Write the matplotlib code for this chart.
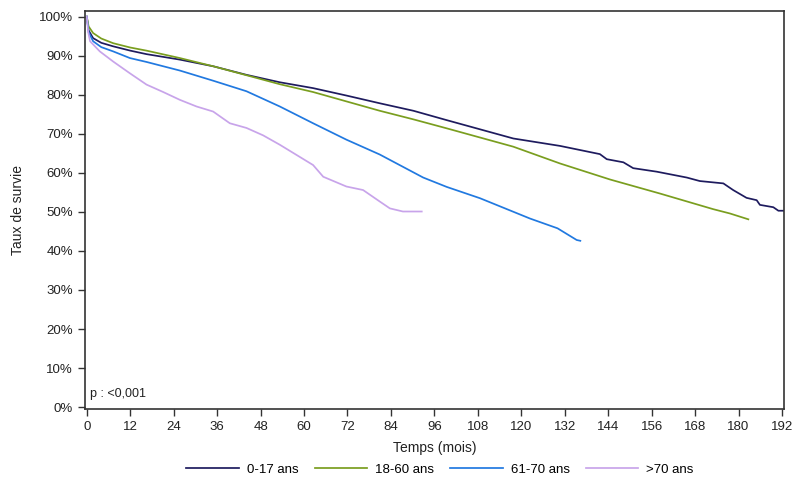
import matplotlib
matplotlib.use("Agg")
import matplotlib.pyplot as plt
from matplotlib.ticker import FuncFormatter

plt.rcParams['font.family'] = ['Liberation Sans', 'DejaVu Sans']

# survival curves (months, % survival)
months_017 = [0, 0.5, 1.75, 4, 7.3, 12, 16.5, 25.7, 34.9, 44.1, 53.3, 62.5, 71.7, 81, 90.2, 99.4,
              117.8, 130.7, 141.7, 143.6, 148.2, 150.9, 157.4, 165.7, 169.3, 175.8, 178.5, 182.2,
              185, 185.9, 189.6, 191, 192.5]
surv_017 = [100, 96.5, 94.5, 93.3, 92.4, 91.3, 90.4, 89, 87.3, 85.1, 83.2, 81.7, 79.8, 77.8, 75.9, 73.5,
            68.8, 66.9, 64.8, 63.5, 62.7, 61.2, 60.3, 58.8, 57.9, 57.3, 55.6, 53.6,
            53, 51.8, 51.2, 50.3, 50.3]

months_1860 = [0, 0.5, 1.75, 4, 7.3, 12, 16.5, 25.7, 34.9, 44.1, 53.3, 62.5, 71.7, 80.9, 90.2, 99.4,
               117.8, 130.7, 144.5, 158.3, 173, 177.6, 182.7]
surv_1860 = [100, 97.5, 95.8, 94.4, 93.2, 92.1, 91.3, 89.4, 87.3, 85, 82.7, 80.7, 78.3, 75.9, 73.7, 71.4,
             66.7, 62.4, 58.3, 54.7, 50.7, 49.6, 48.1]

months_6170 = [0, 0.5, 1.75, 4, 7.3, 11.9, 16.5, 25.7, 34.9, 44.1, 53.3, 62.5, 71.7, 80.9, 92.9, 99.4,
               108.6, 122.4, 130, 135.3, 136.3]
surv_6170 = [100, 96, 93.7, 92.2, 91.1, 89.4, 88.4, 86.2, 83.6, 80.9, 77, 72.7, 68.5, 64.7, 58.8, 56.4,
             53.5, 48.3, 45.8, 42.8, 42.6]

months_70 = [0, 0.4, 0.9, 3.6, 7.3, 11.9, 16.5, 21.1, 25.7, 30.3, 34.9, 39.5, 44.1, 48.7, 53.3, 57.9,
             62.5, 65.3, 71.7, 76.3, 81, 83.7, 87.3, 92.5]
surv_70 = [100, 96, 93.7, 91.1, 88.5, 85.5, 82.6, 80.7, 78.7, 77, 75.7, 72.7, 71.5, 69.6, 67.2, 64.6,
           62, 59, 56.5, 55.6, 52.6, 50.9, 50.1, 50.1]

labels = ['0-17 ans', '18-60 ans', '61-70 ans', '>70 ans']
colors = ['#1e1b5e', '#7a9e1f', '#2179e0', '#c8a4ea']

fig = plt.figure(figsize=(8, 4.87), dpi=100)
ax = fig.add_axes([0.106, 0.16, 0.874, 0.817])

series = [(months_017, surv_017), (months_1860, surv_1860), (months_6170, surv_6170), (months_70, surv_70)]
for (m, s), lab, col in zip(series, labels, colors):
    ax.plot(m, s, color=col, lw=1.25, label=lab)

ax.set_xlim(-0.55, 192.55)
ax.set_ylim(-0.5, 101.4)
ax.set_xticks(range(0, 193, 12))
ax.set_yticks(range(0, 101, 10))
ax.yaxis.set_major_formatter(FuncFormatter(lambda v, p: '%d%%' % v))

for sp in ax.spines.values():
    sp.set_color('#333333')
    sp.set_linewidth(1.2)
ax.tick_params(direction='out', length=5, width=1, color='#333333', labelsize=9.5, labelcolor='#222222')

ax.set_xlabel('Temps (mois)', fontsize=10, color='#222222', labelpad=6)
ax.set_ylabel('Taux de survie', fontsize=10, color='#222222', labelpad=10)

ax.text(0.008, 0.03, 'p : <0,001', transform=ax.transAxes, fontsize=9, color='#222222')

leg = fig.legend(loc='center', bbox_to_anchor=(0.55, 0.036), ncol=4, frameon=False, handlelength=4.0,
                 columnspacing=1.2, handletextpad=0.6, prop={'size': 9.5})

fig.savefig('out.png', dpi=100)
